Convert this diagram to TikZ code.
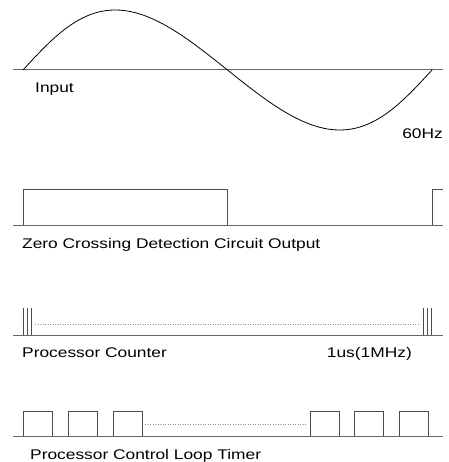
\documentclass[tikz,border=0pt]{standalone}
\usepackage{fontspec}
\setmainfont{Liberation Sans}[FakeStretch=1.24]
\begin{document}
\begin{tikzpicture}[x=1pt,y=-1pt,
  axis/.style={draw=black!60, line width=1pt},
  wave/.style={draw=black, line width=0.8pt},
  pulse/.style={draw=black!70, line width=0.9pt},
  filler/.style={draw=black!45, dotted, line width=0.5pt},
  lbl/.style={inner sep=0pt, font=\fontsize{14}{16}\selectfont}]
\useasboundingbox (0,0) rectangle (448,462);

% input sine, 60Hz
\draw[axis] (13,70) -- (443,70);
\draw[wave] plot[variable=\t, domain=0:360, samples=120, smooth]
  ({23+1.13611*\t-10*sin(\t)}, {70-60*sin(\t)});
\node[lbl, anchor=base west] (input) at (35,92.5) {Input};
\node[lbl, anchor=base east] (freq) at (443,139) {60Hz};

% zero crossing detector
\draw[axis] (13,225) -- (443,225);
\draw[pulse] (23,225) -- (23,189.5) -- (227.5,189.5) -- (227.5,225);
\draw[pulse] (432.5,225) -- (432.5,189.5) -- (443,189.5);
\node[lbl, anchor=base west] (zcd) at (22,248.5) {Zero Crossing Detection Circuit Output};

% processor counter
\draw[axis] (13,335) -- (443,335);
\foreach \x in {23,27,31,423,427,431}
  \draw[pulse] (\x,335) -- (\x,308);
\draw[filler] (35,324) -- (420,324);
\node[lbl, anchor=base west] (counter) at (22,357) {Processor Counter};
\node[lbl, anchor=base east] (clock) at (412,357) {1us(1MHz)};

% control loop timer
\draw[axis] (13,436) -- (443,436);
\foreach \x in {23,68,113,310,354.5,399}
  \draw[pulse] (\x,436) -- (\x,411) -- (\x+29,411) -- (\x+29,436);
\draw[filler] (145,424) -- (306,424);
\node[lbl, anchor=base west] (timer) at (30,459) {Processor Control Loop Timer};
\end{tikzpicture}
\end{document}
